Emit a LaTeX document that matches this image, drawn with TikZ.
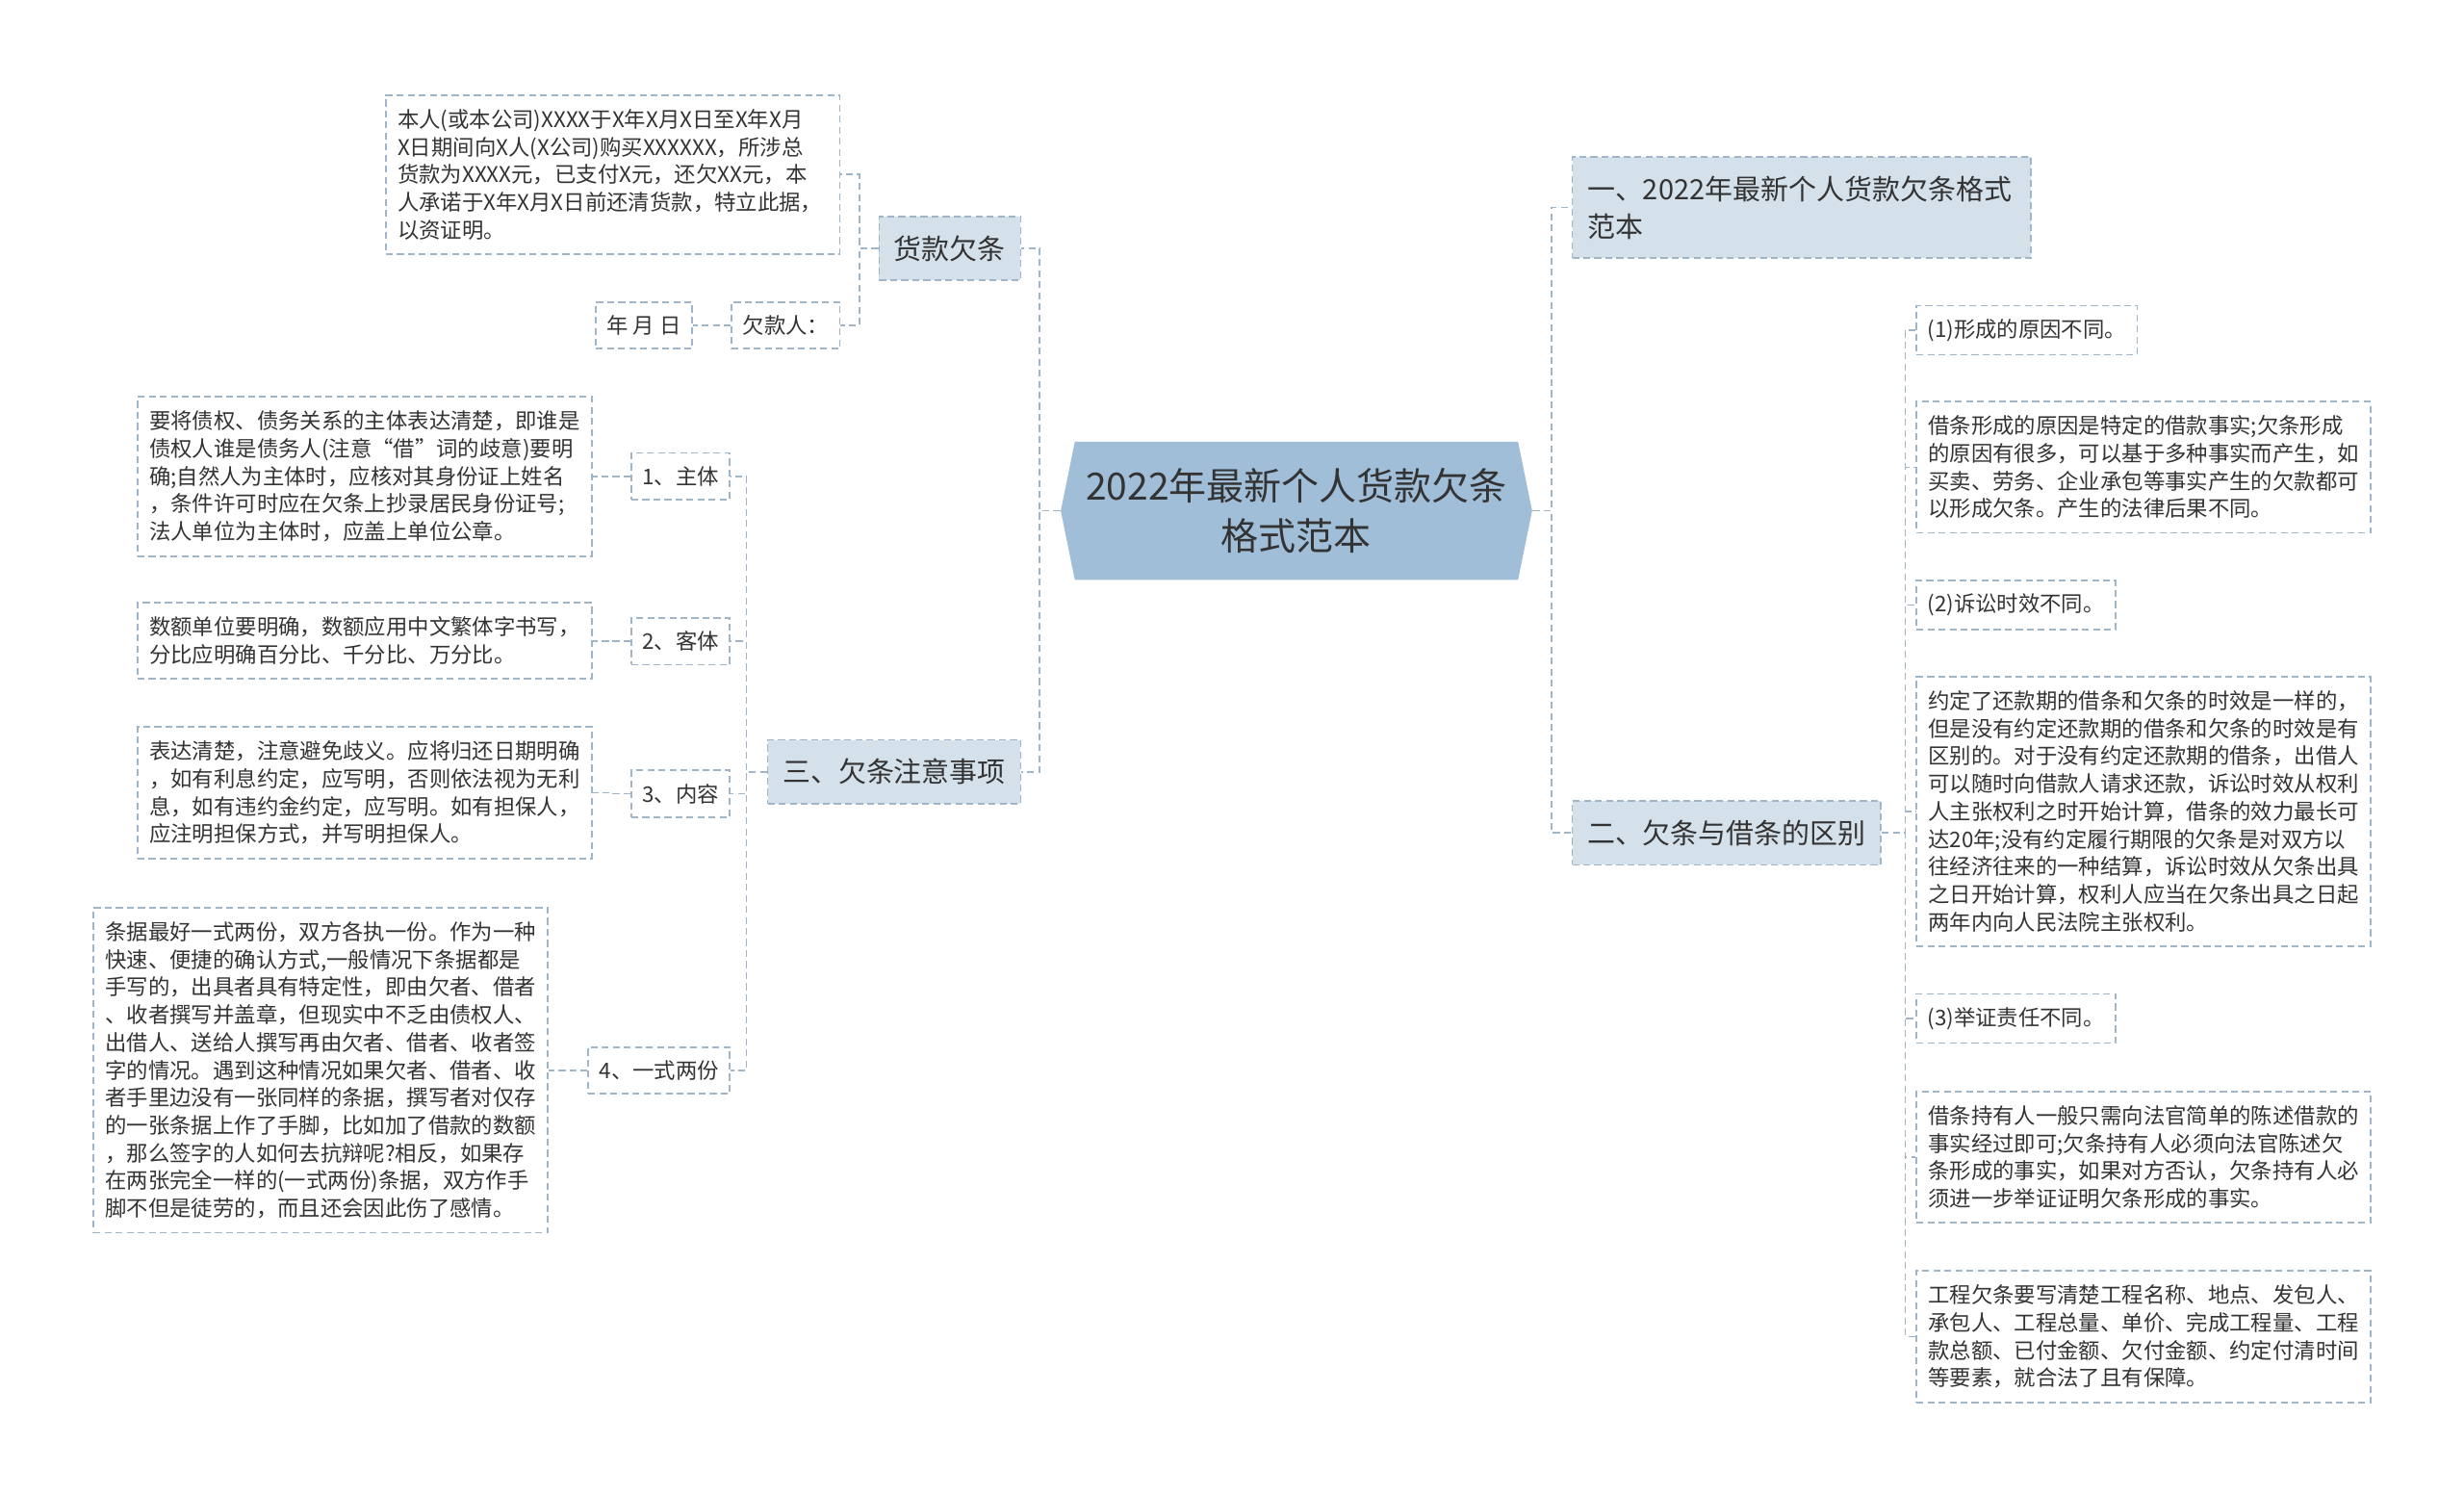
\documentclass[tikz,border=0pt]{standalone}
\usepackage{fontspec}
\setmainfont{Noto Sans CJK SC}
\usetikzlibrary{shapes.symbols}
\definecolor{rootblue}{RGB}{161,190,217}
\definecolor{branchblue}{RGB}{212,224,234}
\definecolor{edgeblue}{RGB}{160,182,200}
\definecolor{inkgray}{RGB}{51,51,51}

\begin{document}
\begin{tikzpicture}[x=0.02cm, y=-0.02cm,
  every node/.style={text=inkgray},
  link/.style={draw=edgeblue, line width=0.6pt, dash pattern=on 2.5pt off 1.5pt},
  rootnode/.style={signal, signal to=west and east, signal pointer angle=157, fill=rootblue,
    minimum width=6cm, minimum height=1.76cm, align=center, font=\fontsize{13.6}{18.2}\selectfont},
  branch/.style={link, fill=branchblue, inner xsep=0.19cm, inner ysep=0.24cm, font=\fontsize{10.1}{13.7}\selectfont},
  tag/.style={link, inner xsep=0.14cm, inner ysep=0.17cm, font=\fontsize{7.8}{10}\selectfont},
  para/.style={link, anchor=north west, text width=5.48cm, align=left, inner xsep=0.15cm,
    inner ysep=0.18cm, font=\fontsize{7.8}{10}\selectfont}]
  \useasboundingbox (0,0) rectangle (1568,951);

  % centre and main branches
  \node[rootnode] (root) at (825,325) {2022年最新个人货款欠条\\格式范本};
  \node[branch, anchor=east] (huokuan) at (650,158) {货款欠条};
  \node[branch, anchor=east] (zhuyi) at (650,491) {三、欠条注意事项};
  \node[branch, anchor=west, text width=5.46cm, align=left] (geshi) at (1000,132) {一、2022年最新个人货款欠条格式\\范本};
  \node[branch, anchor=west] (qubie) at (1000,530) {二、欠条与借条的区别};

  % 货款欠条
  \node[para] (sample) at (245,60) {本人(或本公司)XXXX于X年X月X日至X年X月\\X日期间向X人(X公司)购买XXXXXX，所涉总\\货款为XXXX元，已支付X元，还欠XX元，本\\人承诺于X年X月X日前还清货款，特立此据，\\以资证明。};
  \node[tag, anchor=east] (debtor) at (535,207) {欠款人：};
  \node[tag, anchor=east] (date) at (441,207) {年 月 日};

  % 欠条注意事项
  \node[tag, anchor=east] (subj) at (465,303) {1、主体};
  \node[tag, anchor=east] (obj) at (465,408) {2、客体};
  \node[tag, anchor=east] (cont) at (465,505) {3、内容};
  \node[tag, anchor=east] (copies) at (465,681) {4、一式两份};
  \node[para] (subjtxt) at (87,252) {要将债权、债务关系的主体表达清楚，即谁是\\债权人谁是债务人(注意“借”词的歧意)要明\\确;自然人为主体时，应核对其身份证上姓名\\，条件许可时应在欠条上抄录居民身份证号;\\法人单位为主体时，应盖上单位公章。};
  \node[para] (objtxt) at (87,383) {数额单位要明确，数额应用中文繁体字书写，\\分比应明确百分比、千分比、万分比。};
  \node[para] (conttxt) at (87,462) {表达清楚，注意避免歧义。应将归还日期明确\\，如有利息约定，应写明，否则依法视为无利\\息，如有违约金约定，应写明。如有担保人，\\应注明担保方式，并写明担保人。};
  \node[para] (copiestxt) at (59,577) {条据最好一式两份，双方各执一份。作为一种\\快速、便捷的确认方式,一般情况下条据都是\\手写的，出具者具有特定性，即由欠者、借者\\、收者撰写并盖章，但现实中不乏由债权人、\\出借人、送给人撰写再由欠者、借者、收者签\\字的情况。遇到这种情况如果欠者、借者、收\\者手里边没有一张同样的条据，撰写者对仅存\\的一张条据上作了手脚，比如加了借款的数额\\，那么签字的人如何去抗辩呢?相反，如果存\\在两张完全一样的(一式两份)条据，双方作手\\脚不但是徒劳的，而且还会因此伤了感情。};

  % 欠条与借条的区别
  \node[tag, anchor=west] (cause) at (1219,210) {(1)形成的原因不同。};
  \node[para] (causetxt) at (1219,255) {借条形成的原因是特定的借款事实;欠条形成\\的原因有很多，可以基于多种事实而产生，如\\买卖、劳务、企业承包等事实产生的欠款都可\\以形成欠条。产生的法律后果不同。};
  \node[tag, anchor=west] (limit) at (1219,385) {(2)诉讼时效不同。};
  \node[para] (limittxt) at (1219,430) {约定了还款期的借条和欠条的时效是一样的，\\但是没有约定还款期的借条和欠条的时效是有\\区别的。对于没有约定还款期的借条，出借人\\可以随时向借款人请求还款，诉讼时效从权利\\人主张权利之时开始计算，借条的效力最长可\\达20年;没有约定履行期限的欠条是对双方以\\往经济往来的一种结算，诉讼时效从欠条出具\\之日开始计算，权利人应当在欠条出具之日起\\两年内向人民法院主张权利。};
  \node[tag, anchor=west] (proof) at (1219,648) {(3)举证责任不同。};
  \node[para] (prooftxt) at (1219,694) {借条持有人一般只需向法官简单的陈述借款的\\事实经过即可;欠条持有人必须向法官陈述欠\\条形成的事实，如果对方否认，欠条持有人必\\须进一步举证证明欠条形成的事实。};
  \node[para] (projtxt) at (1219,808) {工程欠条要写清楚工程名称、地点、发包人、\\承包人、工程总量、单价、完成工程量、工程\\款总额、已付金额、欠付金额、约定付清时间\\等要素，就合法了且有保障。};

  % connectors
  \foreach \n in {huokuan,zhuyi}
    \draw[link] (root.west) -- ++(-13,0) |- (\n.east);
  \foreach \n in {geshi,qubie}
    \draw[link] (root.east) -- ++(12,0) |- (\n.west);
  \foreach \n in {sample,debtor}
    \draw[link] (huokuan.west) -- ++(-12,0) |- (\n.east);
  \draw[link] (debtor.west) -- (date.east);
  \foreach \n in {subj,obj,cont,copies}
    \draw[link] (zhuyi.west) -- ++(-13,0) |- (\n.east);
  \foreach \a/\b in {subj/subjtxt,obj/objtxt,cont/conttxt,copies/copiestxt}
    \draw[link] (\a.west) -- ++(-12,0) |- (\b.east);
  \foreach \n in {cause,causetxt,limit,limittxt,proof,prooftxt,projtxt}
    \draw[link] (qubie.east) -- ++(15,0) |- (\n.west);
\end{tikzpicture}
\end{document}
